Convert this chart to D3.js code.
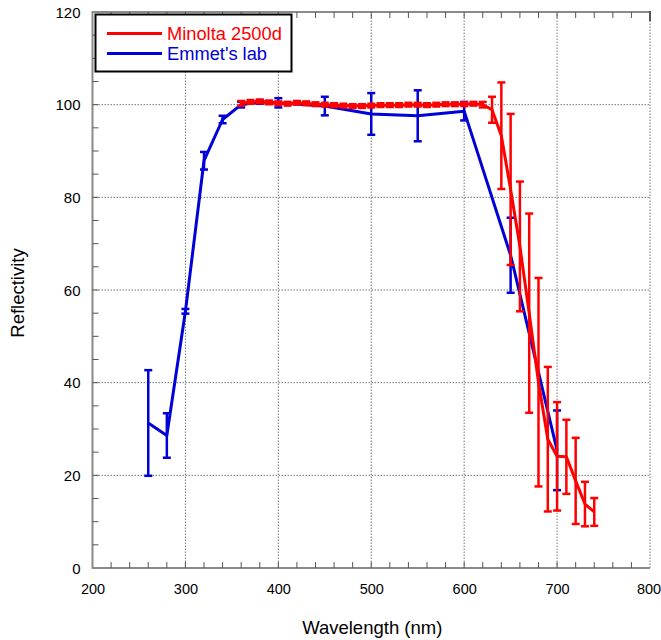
<!DOCTYPE html>
<html>
<head>
<meta charset="utf-8">
<script src="https://cdn.jsdelivr.net/npm/d3@7"></script>
<style>
  html, body { margin: 0; padding: 0; background: #fff; }
  text { font-family: "Liberation Sans", Arial, sans-serif; }
</style>
</head>
<body>
<svg id="chart" width="661" height="640"></svg>
<script>
// Minolta 2500d readings
const minoltaWavelength = [360, 370, 380, 390, 400, 410, 420, 430, 440, 450, 460, 470, 480, 490, 500,
  510, 520, 530, 540, 550, 560, 570, 580, 590, 600, 610, 620, 630, 640, 650, 660, 670, 680, 690, 700,
  710, 720, 730, 740];
const minoltaValue = [100.3, 100.6, 100.7, 100.5, 100.3, 100.2, 100.4, 100.3, 100.1, 100.0, 99.9, 99.8, 99.7, 99.7, 99.8,
  99.9, 99.9, 99.9, 100.0, 100.0, 99.9, 100.0, 100.1, 100.1, 100.1, 100.2, 100.0, 98.9, 93.3, 81.7, 69.4, 55.0, 40.1, 27.8, 24.1,
  24.0, 18.8, 13.8, 12.1];
const minoltaError = [0.5, 0.4, 0.4, 0.4, 0.4, 0.4, 0.4, 0.4, 0.4, 0.4, 0.4, 0.4, 0.4, 0.4, 0.4,
  0.4, 0.4, 0.4, 0.4, 0.4, 0.4, 0.4, 0.4, 0.4, 0.4, 0.4, 0.6, 2.8, 11.5, 16.3, 14.0, 21.5, 22.5, 15.6, 11.7,
  8.0, 9.3, 4.8, 3.0];

// Emmet's lab readings
const labWavelength = [260, 280, 300, 320, 340, 360, 380, 400, 450, 500, 550, 600, 650, 700];
const labValue = [31.3, 28.6, 55.4, 87.9, 96.8, 100.0, 100.6, 100.4, 99.7, 98.0, 97.6, 98.6, 67.5, 25.4];
const labError = [11.4, 4.8, 0.5, 1.9, 0.8, 0.6, 0.4, 1.0, 2.0, 4.5, 5.5, 2.0, 8.1, 8.6];

const xTicks = [200, 300, 400, 500, 600, 700, 800];
const yTicks = [0, 20, 40, 60, 80, 100, 120];

const seriesNames = ["Minolta 2500d", "Emmet's lab"];
const seriesColors = ["#ff0000", "#0000d8"];

const margin = { left: 92.5, top: 12, right: 11, bottom: 72 };
const W = 661, H = 640;
const svg = d3.select("#chart");

const x = d3.scaleLinear().domain([200, 800]).range([margin.left, W - margin.right]);
const y = d3.scaleLinear().domain([0, 120]).range([H - margin.bottom, margin.top]);

const axisGrey = "#8a8a8a";

// dotted grid
const grid = svg.append("g");
grid.selectAll("line.vx").data(xTicks.filter(d => d > 200)).join("line")
  .attr("x1", d => x(d)).attr("x2", d => x(d))
  .attr("y1", y(0)).attr("y2", y(120))
  .attr("stroke", "#777").attr("stroke-width", 1).attr("stroke-dasharray", "1.5,1.5");
grid.selectAll("line.hy").data(yTicks.filter(d => d > 0 && d < 120)).join("line")
  .attr("x1", x(200)).attr("x2", x(800))
  .attr("y1", d => y(d)).attr("y2", d => y(d))
  .attr("stroke", "#777").attr("stroke-width", 1).attr("stroke-dasharray", "1.5,1.5");

// frame: left, bottom, top
const frame = svg.append("g").attr("stroke", axisGrey).attr("stroke-width", 2).attr("fill", "none");
frame.append("path").attr("d", `M${x(800)},${y(120)}H${x(200)}V${y(0)}H${x(800)}`);
frame.append("line").attr("x1", x(800)).attr("x2", x(800)).attr("y1", y(120) - 1).attr("y2", y(118))
  .attr("stroke", "#555");

// minor ticks, pointing inward
const xMinor = d3.range(220, 800, 20);
const yMinor = d3.range(5, 120, 5);
const ticks = svg.append("g").attr("stroke", "#555").attr("stroke-width", 1);
ticks.selectAll("line.bx").data(xMinor).join("line")
  .attr("x1", d => x(d)).attr("x2", d => x(d)).attr("y1", y(0)).attr("y2", y(0) - 6);
ticks.selectAll("line.tx").data(xMinor).join("line")
  .attr("x1", d => x(d)).attr("x2", d => x(d)).attr("y1", y(120)).attr("y2", y(120) + 6);
ticks.selectAll("line.ly").data(yMinor).join("line")
  .attr("x1", x(200)).attr("x2", x(200) + 6).attr("y1", d => y(d)).attr("y2", d => y(d));

// tick labels via d3 axes with hidden lines
const xAxis = svg.append("g").attr("transform", `translate(0,${y(0)})`)
  .call(d3.axisBottom(x).tickValues(xTicks).tickSize(0).tickPadding(16));
xAxis.select(".domain").remove();
xAxis.selectAll("text").attr("font-size", 14.5).attr("fill", "#000")
  .attr("font-family", "'Liberation Sans', Arial, sans-serif")
  .attr("dx", d => d === 800 ? -1.5 : 0);

const yAxis = svg.append("g").attr("transform", `translate(${x(200)},0)`)
  .call(d3.axisLeft(y).tickValues(yTicks).tickSize(0).tickPadding(12));
yAxis.select(".domain").remove();
yAxis.selectAll("text").attr("font-size", 15).attr("fill", "#000").attr("dy", "0.35em")
  .attr("font-family", "'Liberation Sans', Arial, sans-serif");

// axis titles
svg.append("text").attr("x", (x(200) + x(800)) / 2 + 1).attr("y", 634)
  .attr("text-anchor", "middle").attr("font-size", 18.5).text("Wavelength (nm)");
svg.append("text").attr("transform", `translate(24,${(y(0) + y(120)) / 2 + 3}) rotate(-90)`)
  .attr("text-anchor", "middle").attr("font-size", 18.5).text("Reflectivity");

// series drawing
function drawSeries(wl, val, err, color, cap) {
  const pts = wl.map((w, i) => ({ w, v: val[i], e: err[i] }));
  const g = svg.append("g");
  g.selectAll("line.eb").data(pts).join("line")
    .attr("x1", d => x(d.w)).attr("x2", d => x(d.w))
    .attr("y1", d => y(d.v + d.e)).attr("y2", d => y(d.v - d.e))
    .attr("stroke", color).attr("stroke-width", 2.5);
  g.selectAll("line.ct").data(pts).join("line")
    .attr("x1", d => x(d.w) - cap).attr("x2", d => x(d.w) + cap)
    .attr("y1", d => y(d.v + d.e)).attr("y2", d => y(d.v + d.e))
    .attr("stroke", color).attr("stroke-width", 2.5);
  g.selectAll("line.cb").data(pts).join("line")
    .attr("x1", d => x(d.w) - cap).attr("x2", d => x(d.w) + cap)
    .attr("y1", d => y(d.v - d.e)).attr("y2", d => y(d.v - d.e))
    .attr("stroke", color).attr("stroke-width", 2.5);
  g.append("path").datum(pts)
    .attr("d", d3.line().x(d => x(d.w)).y(d => y(d.v)))
    .attr("fill", "none").attr("stroke", color).attr("stroke-width", 3)
    .attr("stroke-linejoin", "round");
}

drawSeries(labWavelength, labValue, labError, seriesColors[1], 4);
drawSeries(minoltaWavelength, minoltaValue, minoltaError, seriesColors[0], 4);

// legend
const lg = svg.append("g");
lg.append("rect").attr("x", 95.5).attr("y", 14.5).attr("width", 196).attr("height", 57)
  .attr("fill", "#fff").attr("stroke", "#000").attr("stroke-width", 2);
seriesNames.forEach((name, i) => {
  const ly = 33.5 + i * 20;
  lg.append("line").attr("x1", 107).attr("x2", 162).attr("y1", ly).attr("y2", ly)
    .attr("stroke", seriesColors[i]).attr("stroke-width", 3);
  lg.append("text").attr("x", 167).attr("y", ly + 6.5).attr("font-size", 18.3)
    .attr("fill", seriesColors[i]).text(name);
});
</script>
</body>
</html>
